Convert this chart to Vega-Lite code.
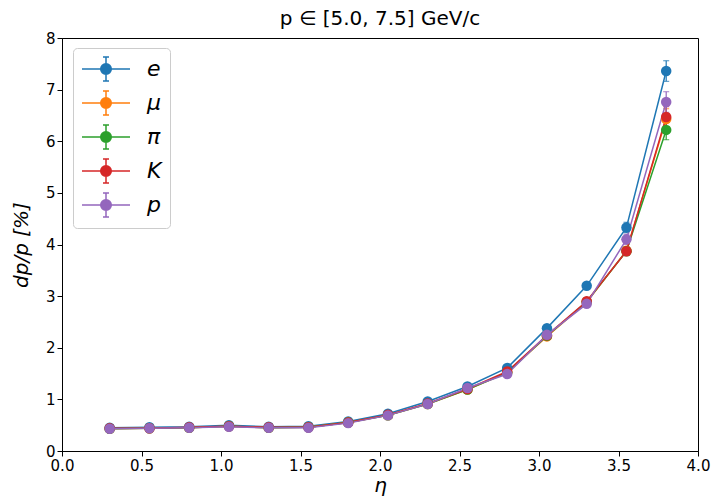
{
  "$schema": "https://vega.github.io/schema/vega-lite/v6.json",
  "width": 636,
  "height": 413,
  "autosize": {"type": "none"},
  "padding": {"left": 62, "top": 38, "right": 17, "bottom": 51},
  "background": "white",
  "config": {
    "font": "DejaVu Sans",
    "view": {"stroke": "black", "strokeWidth": 1},
    "axis": {
      "grid": false,
      "labelFlush": false,
      "domainColor": "black",
      "tickColor": "black",
      "tickSize": 5,
      "labelFontSize": 15,
      "labelColor": "black",
      "labelFont": "DejaVu Sans",
      "titleFont": "DejaVu Sans",
      "titleFontWeight": "normal",
      "titleColor": "black",
      "titleFontSize": 20
    }
  },
  "title": {
    "text": "p ∈ [5.0, 7.5] GeV/c",
    "fontSize": 20,
    "fontWeight": "normal",
    "font": "DejaVu Sans",
    "color": "black",
    "offset": 2
  },
  "data": {
    "values": [
      {"particle": "e", "eta": 0.3, "val": 0.45, "err": 0.01},
      {"particle": "e", "eta": 0.55, "val": 0.46, "err": 0.01},
      {"particle": "e", "eta": 0.8, "val": 0.47, "err": 0.01},
      {"particle": "e", "eta": 1.05, "val": 0.5, "err": 0.01},
      {"particle": "e", "eta": 1.3, "val": 0.47, "err": 0.01},
      {"particle": "e", "eta": 1.55, "val": 0.48, "err": 0.01},
      {"particle": "e", "eta": 1.8, "val": 0.57, "err": 0.01},
      {"particle": "e", "eta": 2.05, "val": 0.72, "err": 0.02},
      {"particle": "e", "eta": 2.3, "val": 0.96, "err": 0.02},
      {"particle": "e", "eta": 2.55, "val": 1.25, "err": 0.03},
      {"particle": "e", "eta": 2.8, "val": 1.61, "err": 0.04},
      {"particle": "e", "eta": 3.05, "val": 2.38, "err": 0.05},
      {"particle": "e", "eta": 3.3, "val": 3.2, "err": 0.06},
      {"particle": "e", "eta": 3.55, "val": 4.33, "err": 0.1},
      {"particle": "e", "eta": 3.8, "val": 7.36, "err": 0.2},
      {"particle": "μ", "eta": 0.3, "val": 0.43, "err": 0.01},
      {"particle": "μ", "eta": 0.55, "val": 0.44, "err": 0.01},
      {"particle": "μ", "eta": 0.8, "val": 0.45, "err": 0.01},
      {"particle": "μ", "eta": 1.05, "val": 0.48, "err": 0.01},
      {"particle": "μ", "eta": 1.3, "val": 0.45, "err": 0.01},
      {"particle": "μ", "eta": 1.55, "val": 0.46, "err": 0.01},
      {"particle": "μ", "eta": 1.8, "val": 0.55, "err": 0.01},
      {"particle": "μ", "eta": 2.05, "val": 0.69, "err": 0.02},
      {"particle": "μ", "eta": 2.3, "val": 0.91, "err": 0.02},
      {"particle": "μ", "eta": 2.55, "val": 1.19, "err": 0.03},
      {"particle": "μ", "eta": 2.8, "val": 1.52, "err": 0.04},
      {"particle": "μ", "eta": 3.05, "val": 2.22, "err": 0.05},
      {"particle": "μ", "eta": 3.3, "val": 2.88, "err": 0.06},
      {"particle": "μ", "eta": 3.55, "val": 3.88, "err": 0.08},
      {"particle": "μ", "eta": 3.8, "val": 6.43, "err": 0.2},
      {"particle": "π", "eta": 0.3, "val": 0.43, "err": 0.01},
      {"particle": "π", "eta": 0.55, "val": 0.44, "err": 0.01},
      {"particle": "π", "eta": 0.8, "val": 0.45, "err": 0.01},
      {"particle": "π", "eta": 1.05, "val": 0.48, "err": 0.01},
      {"particle": "π", "eta": 1.3, "val": 0.45, "err": 0.01},
      {"particle": "π", "eta": 1.55, "val": 0.46, "err": 0.01},
      {"particle": "π", "eta": 1.8, "val": 0.55, "err": 0.01},
      {"particle": "π", "eta": 2.05, "val": 0.69, "err": 0.02},
      {"particle": "π", "eta": 2.3, "val": 0.91, "err": 0.02},
      {"particle": "π", "eta": 2.55, "val": 1.19, "err": 0.03},
      {"particle": "π", "eta": 2.8, "val": 1.52, "err": 0.04},
      {"particle": "π", "eta": 3.05, "val": 2.23, "err": 0.05},
      {"particle": "π", "eta": 3.3, "val": 2.89, "err": 0.06},
      {"particle": "π", "eta": 3.55, "val": 3.87, "err": 0.08},
      {"particle": "π", "eta": 3.8, "val": 6.22, "err": 0.19},
      {"particle": "K", "eta": 0.3, "val": 0.44, "err": 0.01},
      {"particle": "K", "eta": 0.55, "val": 0.44, "err": 0.01},
      {"particle": "K", "eta": 0.8, "val": 0.46, "err": 0.01},
      {"particle": "K", "eta": 1.05, "val": 0.48, "err": 0.01},
      {"particle": "K", "eta": 1.3, "val": 0.46, "err": 0.01},
      {"particle": "K", "eta": 1.55, "val": 0.46, "err": 0.01},
      {"particle": "K", "eta": 1.8, "val": 0.55, "err": 0.01},
      {"particle": "K", "eta": 2.05, "val": 0.7, "err": 0.02},
      {"particle": "K", "eta": 2.3, "val": 0.92, "err": 0.02},
      {"particle": "K", "eta": 2.55, "val": 1.2, "err": 0.03},
      {"particle": "K", "eta": 2.8, "val": 1.54, "err": 0.04},
      {"particle": "K", "eta": 3.05, "val": 2.24, "err": 0.05},
      {"particle": "K", "eta": 3.3, "val": 2.9, "err": 0.06},
      {"particle": "K", "eta": 3.55, "val": 3.87, "err": 0.08},
      {"particle": "K", "eta": 3.8, "val": 6.47, "err": 0.2},
      {"particle": "p", "eta": 0.3, "val": 0.43, "err": 0.01},
      {"particle": "p", "eta": 0.55, "val": 0.44, "err": 0.01},
      {"particle": "p", "eta": 0.8, "val": 0.45, "err": 0.01},
      {"particle": "p", "eta": 1.05, "val": 0.47, "err": 0.01},
      {"particle": "p", "eta": 1.3, "val": 0.45, "err": 0.01},
      {"particle": "p", "eta": 1.55, "val": 0.45, "err": 0.01},
      {"particle": "p", "eta": 1.8, "val": 0.54, "err": 0.01},
      {"particle": "p", "eta": 2.05, "val": 0.69, "err": 0.02},
      {"particle": "p", "eta": 2.3, "val": 0.91, "err": 0.02},
      {"particle": "p", "eta": 2.55, "val": 1.22, "err": 0.03},
      {"particle": "p", "eta": 2.8, "val": 1.49, "err": 0.04},
      {"particle": "p", "eta": 3.05, "val": 2.25, "err": 0.05},
      {"particle": "p", "eta": 3.3, "val": 2.85, "err": 0.06},
      {"particle": "p", "eta": 3.55, "val": 4.1, "err": 0.1},
      {"particle": "p", "eta": 3.8, "val": 6.76, "err": 0.2}
    ]
  },
  "encoding": {
    "x": {
      "field": "eta", "type": "quantitative",
      "scale": {"domain": [0, 4], "nice": false, "zero": false, "padding": 0},
      "axis": {"values": [0, 0.5, 1, 1.5, 2, 2.5, 3, 3.5, 4], "format": ".1f", "title": "η", "titleFontStyle": "italic", "titlePadding": 2}
    },
    "y": {
      "field": "val", "type": "quantitative",
      "scale": {"domain": [0, 8], "nice": false, "padding": 0},
      "axis": {"values": [0, 1, 2, 3, 4, 5, 6, 7, 8], "title": "dp/p [%]", "titleFontStyle": "italic", "titlePadding": 14}
    },
    "color": {
      "field": "particle", "type": "nominal",
      "scale": {"domain": ["e", "μ", "π", "K", "p"], "range": ["#1f77b4", "#ff7f0e", "#2ca02c", "#d62728", "#9467bd"]},
      "legend": {
        "orient": "none",
        "legendX": 11,
        "legendY": 10,
        "title": null,
        "padding": 8,
        "strokeColor": "#cccccc",
        "fillColor": "white",
        "cornerRadius": 4,
        "symbolType": "M-2,0L2,0M0.44,0A0.44,0.44 0 1,1 -0.44,0A0.44,0.44 0 1,1 0.44,0ZM0,-1L0,1M-0.25,-1L0.25,-1M-0.25,1L0.25,1",
        "symbolSize": 576,
        "symbolStrokeWidth": 1.5,
        "symbolOffset": 12,
        "labelFontSize": 22,
        "labelFont": "DejaVu Sans",
        "labelFontStyle": "italic",
        "labelColor": "black",
        "labelOffset": 28,
        "rowPadding": 4,
        "encode": {
          "symbols": {"update": {"stroke": {"scale": "color", "field": "value"}, "fill": {"scale": "color", "field": "value"}, "opacity": {"value": 1}}}
        }
      }
    }
  },
  "layer": [
    {
      "mark": {"type": "errorbar", "ticks": {"size": 6, "thickness": 1.2}, "thickness": 1.2},
      "encoding": {
        "yError": {"field": "err"}
      }
    },
    {
      "mark": {"type": "line", "strokeWidth": 1.5}
    },
    {
      "mark": {"type": "point", "filled": true, "size": 110, "opacity": 1}
    }
  ]
}
